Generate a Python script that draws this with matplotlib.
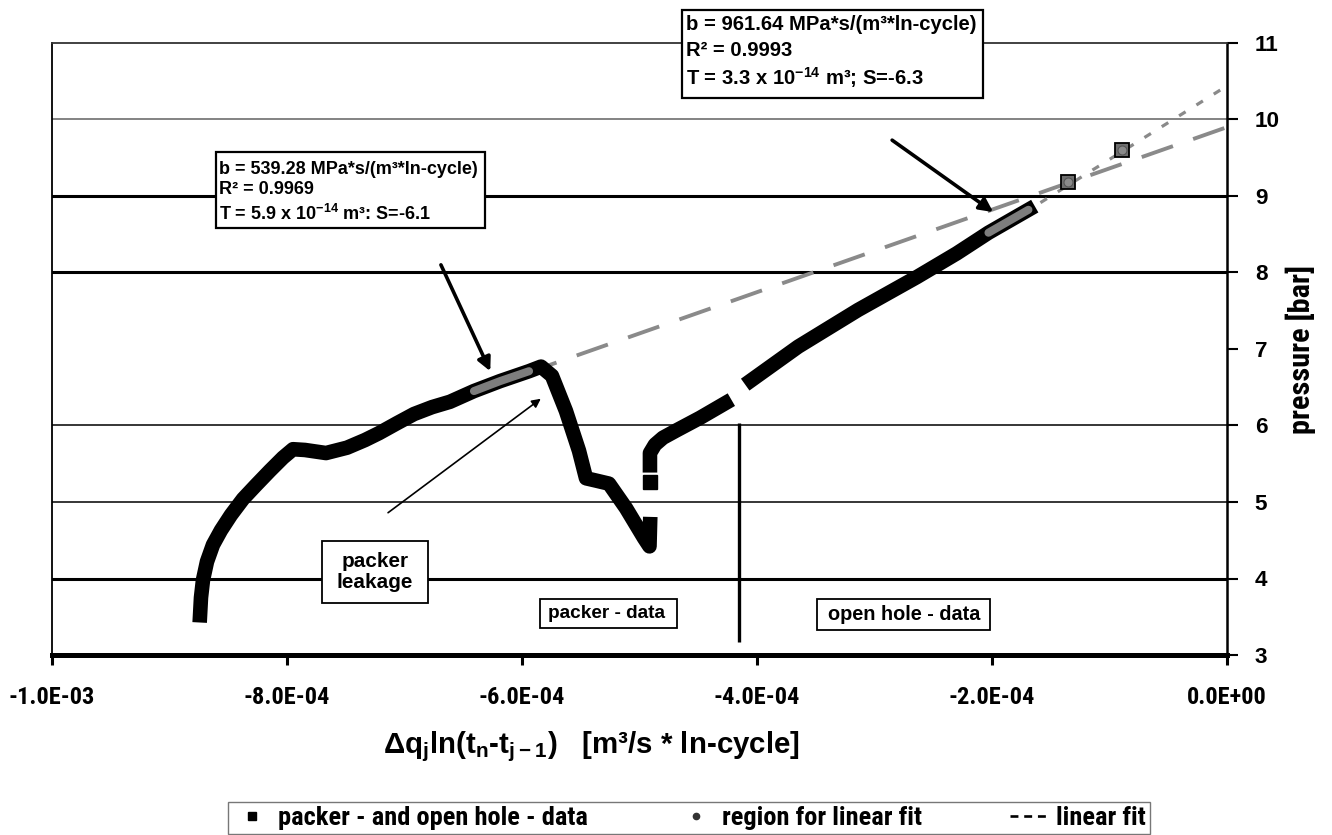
import matplotlib
matplotlib.use("Agg")
import matplotlib.pyplot as plt
from matplotlib import font_manager
from matplotlib.lines import Line2D
from matplotlib.patches import Rectangle
import numpy as np

W, H, DPI = 1332, 835, 100


def _weight(w):
    try:
        return int(w)
    except (TypeError, ValueError):
        return 700 if str(w).lower() in ("bold", "heavy", "black", "demibold") else 400


_fonts = font_manager.fontManager.ttflist
_names = {f.name for f in _fonts}
_bold = {f.name for f in _fonts if _weight(f.weight) >= 600}
SANS = "Liberation Sans" if "Liberation Sans" in _names else "DejaVu Sans"
NARROW = SANS
for cand in ["Liberation Sans Narrow", "Arial Narrow", "Archivo Narrow",
             "Roboto Condensed", "PT Sans Narrow", "Asap Condensed"]:
    if cand in _bold:
        NARROW = cand
        break

plt.rcParams["font.family"] = [SANS, "DejaVu Sans"]
plt.rcParams["font.weight"] = "bold"
plt.rcParams["mathtext.default"] = "regular"

# ---------------------------------------------------------------- data
# x: delta q_j * ln(t_n - t_j-1)  [m^3/s * ln-cycle],  p: pressure [bar]
packer_x = np.array([-8.740, -8.732, -8.715, -8.681, -8.630, -8.562, -8.477, -8.374,
                     -8.264, -8.145, -8.034, -7.949, -7.847, -7.668, -7.489, -7.336,
                     -7.217, -7.064, -6.919, -6.766, -6.613, -6.409, -6.187, -5.940,
                     -5.838, -5.745, -5.626, -5.515, -5.455, -5.370, -5.260, -5.115,
                     -4.962, -4.915, -4.910]) * 1e-4
packer_p = np.array([3.52, 3.75, 3.98, 4.22, 4.44, 4.63, 4.83, 5.04,
                     5.22, 5.41, 5.58, 5.69, 5.68, 5.64, 5.71, 5.81,
                     5.90, 6.03, 6.15, 6.24, 6.31, 6.45, 6.58, 6.71,
                     6.77, 6.65, 6.19, 5.67, 5.31, 5.28, 5.24, 4.92,
                     4.53, 4.42, 4.71])

single_x = np.array([-4.91]) * 1e-4
single_p = np.array([5.26])

openA_x = np.array([-4.911, -4.911, -4.868, -4.800, -4.681, -4.485, -4.272]) * 1e-4
openA_p = np.array([5.48, 5.64, 5.75, 5.84, 5.94, 6.10, 6.29])

openB_x = np.array([-4.05, -3.65, -3.14, -2.64, -2.30, -2.03, -1.69]) * 1e-4
openB_p = np.array([6.59, 7.03, 7.51, 7.94, 8.25, 8.52, 8.82])

late_x = np.array([-1.353, -0.894]) * 1e-4
late_p = np.array([9.18, 9.60])

# points used for each straight-line fit
packer_fit_x, packer_fit_p = packer_x[21:24], packer_p[21:24]
open_fit_x, open_fit_p = openB_x[5:], openB_p[5:]

# fit results: slope b [MPa*s/(m^3*ln-cycle)] and intercept at x = 0 [bar]
packer_b, packer_p0, packer_r2 = 539.28, 9.90, 0.9969
open_b, open_p0, open_r2 = 961.64, 10.44, 0.9993
MPA_TO_BAR = 10.0

x_ticks = [-1.0e-3, -8.0e-4, -6.0e-4, -4.0e-4, -2.0e-4, 0.0]
x_tick_labels = ["-1.0E-03", "-8.0E-04", "-6.0E-04", "-4.0E-04", "-2.0E-04", "0.0E+00"]
y_ticks = [3, 4, 5, 6, 7, 8, 9, 10, 11]

# horizontal grid: level, width [pt], colour
grid_levels = [10, 9, 8, 6, 5, 4]
grid_widths = [1.3, 2.2, 2.2, 1.1, 1.1, 2.2]
grid_colors = ["#7a7a7a", "black", "black", "black", "black", "black"]

boundary_x = -4.15e-4  # packer / open hole change-over

# ---------------------------------------------------------------- figure
fig = plt.figure(figsize=(W / DPI, H / DPI), dpi=DPI)
renderer = fig.canvas.get_renderer()
AX_L, AX_R, AX_T, AX_B = 52, 1227, 43, 655
ax = fig.add_axes([AX_L / W, 1 - AX_B / H, (AX_R - AX_L) / W, (AX_B - AX_T) / H])
ax.set_xlim(-1.0e-3, 0.0)
ax.set_ylim(3, 11)


def fx(px):
    return px / W


def fy(py):
    return 1 - py / H


def fit_size(text, width_px, family, base=20.0):
    """Font size at which `text` spans `width_px` pixels."""
    t = fig.text(0, 0, text, size=base, family=family, weight="bold")
    w = t.get_window_extent(renderer=renderer).width
    t.remove()
    return base * width_px / w


for lev, lw, col in zip(grid_levels, grid_widths, grid_colors):
    ax.axhline(lev, color=col, lw=lw, zorder=1)

ax.spines["left"].set_linewidth(1.3)
ax.spines["top"].set_linewidth(1.3)
ax.spines["top"].set_color("#333333")
ax.spines["right"].set_linewidth(1.8)
ax.spines["bottom"].set_linewidth(3.6)

xt_size = fit_size("-8.0E-04", 86, [NARROW, SANS])
ax.set_xticks(x_ticks)
ax.set_xticklabels(x_tick_labels, family=[NARROW, SANS], weight="bold", size=xt_size)
ax.tick_params(axis="x", direction="out", length=7, width=2.2, pad=15)

yt_size = fit_size("10", 25, [SANS])
ax.yaxis.tick_right()
ax.set_yticks(y_ticks)
ax.set_yticklabels([str(v) for v in y_ticks], weight="bold", size=yt_size)
ax.tick_params(axis="y", direction="out", length=8, width=1.5, pad=12)

xlabel = r"Δq$_j$ln(t$_n$-t$_{j-1}$)   [m³/s * ln-cycle]"
ax.set_xlabel(xlabel, weight="bold", size=fit_size(xlabel, 417, [SANS]))
ax.xaxis.set_label_coords((591 - AX_L) / (AX_R - AX_L), -(747 - AX_B) / (AX_B - AX_T))
ax.xaxis.label.set_va("center")

ylabel = "pressure [bar]"
ax.yaxis.set_label_position("right")
ax.set_ylabel(ylabel, family=[NARROW, SANS], weight="bold",
              size=fit_size(ylabel, 168, [NARROW, SANS]))
ax.yaxis.set_label_coords((1301 - AX_L) / (AX_R - AX_L), 0.5)
ax.yaxis.label.set_va("center")

# fit lines
lx = np.array([packer_fit_x[0], 0.0])
ax.plot(lx, packer_p0 + packer_b * MPA_TO_BAR * lx, color="#8a8a8a", lw=2.8,
        dashes=(8.5, 5.5), zorder=2)
lx = np.array([open_fit_x[0], 0.0])
ax.plot(lx, open_p0 + open_b * MPA_TO_BAR * lx, color="#8a8a8a", lw=2.3,
        dashes=(2.4, 4.0), zorder=2)

# measured data
DATA_LW = 10.5
for xs, ps in [(packer_x, packer_p), (openA_x, openA_p), (openB_x, openB_p)]:
    ax.plot(xs, ps, color="black", lw=DATA_LW, solid_capstyle="projecting",
            solid_joinstyle="round", zorder=3)
ax.plot(single_x, single_p, ls="none", marker="s", ms=9.5, color="black", zorder=3)
ax.plot(late_x, late_p, ls="none", marker="s", ms=9.5, mfc="#6f6f6f", mec="black",
        mew=1.3, zorder=5)

# regions used for fitting
for xs, ps in [(packer_fit_x, packer_fit_p), (open_fit_x, open_fit_p)]:
    ax.plot(xs, ps, color="#7d7d7d", lw=5.8, solid_capstyle="round", zorder=4)
ax.plot(late_x, late_p, ls="none", marker="o", ms=6.5, mfc="#8a8a8a", mec="#555555",
        mew=0.8, zorder=6)

# change-over line
ax.vlines(boundary_x, 3.17, 6.03, color="black", lw=2.4, zorder=3)

# arrows
ax.annotate("", xy=(-6.27e-4, 6.71), xytext=(-6.69e-4, 8.10),
            arrowprops=dict(arrowstyle="-|>", color="black", lw=2.6,
                            mutation_scale=20, shrinkA=0, shrinkB=0), zorder=7)
ax.annotate("", xy=(-1.99e-4, 8.79), xytext=(-2.85e-4, 9.73),
            arrowprops=dict(arrowstyle="-|>", color="black", lw=2.6,
                            mutation_scale=20, shrinkA=0, shrinkB=0), zorder=7)
ax.annotate("", xy=(-5.84e-4, 6.35), xytext=(-7.14e-4, 4.86),
            arrowprops=dict(arrowstyle="-|>", color="black", lw=1.2,
                            mutation_scale=13, shrinkA=0, shrinkB=0), zorder=7)


# annotation boxes (pixel layout)
def add_box(x0, y0, x1, y1, lw=1.3):
    fig.add_artist(Rectangle((fx(x0), fy(y1)), fx(x1) - fx(x0), fy(y0) - fy(y1),
                             transform=fig.transFigure, facecolor="white",
                             edgecolor="black", lw=lw, zorder=10))


add_box(682, 10, 983, 98, lw=1.6)
box1 = [f"b = {open_b:.2f} MPa*s/(m³*ln-cycle)", f"R² = {open_r2:.4f}",
        r"T = 3.3 x 10$^{-14}$ m³; S=-6.3"]
s1 = fit_size(box1[0], 290, [SANS])
for txt, yy in zip(box1, [25, 51, 78]):
    fig.text(fx(686), fy(yy), txt, ha="left", va="center", size=s1, zorder=11)

add_box(216, 152, 485, 228, lw=1.6)
box2 = [f"b = {packer_b:.2f} MPa*s/(m³*ln-cycle)", f"R² = {packer_r2:.4f}",
        r"T = 5.9 x 10$^{-14}$ m³: S=-6.1"]
s2 = fit_size(box2[0], 258, [SANS])
for txt, yy in zip(box2, [169, 190, 214]):
    fig.text(fx(219), fy(yy), txt, ha="left", va="center", size=s2, zorder=11)

add_box(322, 541, 428, 603)
fig.text(fx(375), fy(572), "packer\nleakage", ha="center", va="center",
         size=fit_size("leakage", 76, [SANS]), linespacing=1.1, zorder=11)

add_box(540, 599, 677, 628)
fig.text(fx(607), fy(614), "packer - data", ha="center", va="center",
         size=fit_size("packer - data", 117, [SANS]), zorder=11)

add_box(817, 599, 990, 630)
fig.text(fx(904), fy(615), "open hole - data", ha="center", va="center",
         size=fit_size("open hole - data", 152, [SANS]), zorder=11)

# legend: font sized to the first entry, spacing stretched to the frame width
handles = [
    Line2D([], [], ls="none", marker="s", ms=6, color="black"),
    Line2D([], [], ls="none", marker="o", ms=4.5, color="#333333"),
    Line2D([], [], color="black", lw=1.9, dashes=(3.0, 2.2)),
]
labels = ["packer - and open hole - data", "region for linear fit", "linear fit"]
LEG_FAMILY = [NARROW, SANS]
leg_size = min(fit_size(labels[0], 330, LEG_FAMILY), 19.0)
LEG_WIDTH = 922


def make_legend(colsp):
    return fig.legend(handles, labels, loc="upper center",
                      bbox_to_anchor=(fx(689), fy(802)), ncol=3, frameon=True,
                      fancybox=False, edgecolor="#555555", handlelength=1.5,
                      handletextpad=0.25, columnspacing=colsp, borderpad=0.15,
                      borderaxespad=0,
                      prop={"family": LEG_FAMILY, "weight": "bold", "size": leg_size})


leg = make_legend(1.0)
w0 = leg.get_window_extent(renderer=renderer).width
leg.remove()
size_px = leg_size * DPI / 72
leg = make_legend(max(0.3, 1.0 + (LEG_WIDTH - w0) / 2 / size_px))
leg.get_frame().set_linewidth(1.0)

fig.savefig("out.png", dpi=DPI)
